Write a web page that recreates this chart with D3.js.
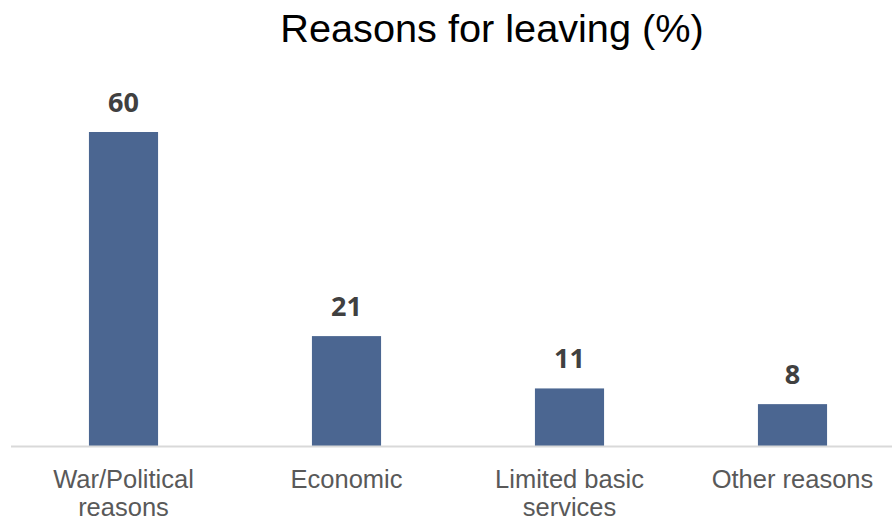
<!DOCTYPE html>
<html>
<head>
<meta charset="utf-8">
<script src="https://cdn.jsdelivr.net/npm/d3@7"></script>
<style>
  html, body { margin: 0; padding: 0; background: #fff; }
  svg { display: block; }
</style>
</head>
<body>
<svg id="chart" width="892" height="520"></svg>
<script>
const categories = [["War/Political", "reasons"], ["Economic"], ["Limited basic", "services"], ["Other reasons"]];
const values = [60, 21, 11, 8];
const title = "Reasons for leaving (%)";

const W = 892, H = 520;
const svg = d3.select("#chart");
const baseY = 446;

const x = d3.scaleBand()
  .domain(d3.range(categories.length))
  .range([12, 904])
  .paddingInner(0.69)
  .paddingOuter(0.345);

const y = d3.scaleLinear().domain([0, 60]).range([baseY, 132]);

svg.append("text")
  .attr("x", 492).attr("y", 42)
  .attr("text-anchor", "middle")
  .attr("font-family", "Liberation Sans, Arial, sans-serif")
  .attr("font-size", 39.7)
  .attr("fill", "#000")
  .text(title);

svg.selectAll("rect.bar")
  .data(values)
  .join("rect")
  .attr("class", "bar")
  .attr("x", (d, i) => x(i))
  .attr("width", x.bandwidth())
  .attr("y", d => y(d))
  .attr("height", d => baseY - y(d))
  .attr("fill", "#4b6691");

svg.append("line")
  .attr("x1", 11).attr("x2", W)
  .attr("y1", baseY + 0.5).attr("y2", baseY + 0.5)
  .attr("stroke", "#d9d9d9").attr("stroke-width", 2);

svg.selectAll("text.val")
  .data(values)
  .join("text")
  .attr("class", "val")
  .attr("x", (d, i) => x(i) + x.bandwidth() / 2)
  .attr("y", d => y(d) - 20)
  .attr("text-anchor", "middle")
  .attr("font-family", "Open Sans, sans-serif")
  .attr("font-weight", 700)
  .attr("font-size", 27)
  .attr("fill", "#404040")
  .text(d => d);

const lab = svg.selectAll("text.cat")
  .data(categories)
  .join("text")
  .attr("class", "cat")
  .attr("x", (d, i) => x(i) + x.bandwidth() / 2)
  .attr("y", 488)
  .attr("text-anchor", "middle")
  .attr("font-family", "Liberation Sans, Arial, sans-serif")
  .attr("font-size", 25.5)
  .attr("fill", "#595959");
lab.selectAll("tspan")
  .data(d => d)
  .join("tspan")
  .attr("x", function() { return d3.select(this.parentNode).attr("x"); })
  .attr("dy", (d, i) => i === 0 ? 0 : 28)
  .text(d => d);
</script>
</body>
</html>
